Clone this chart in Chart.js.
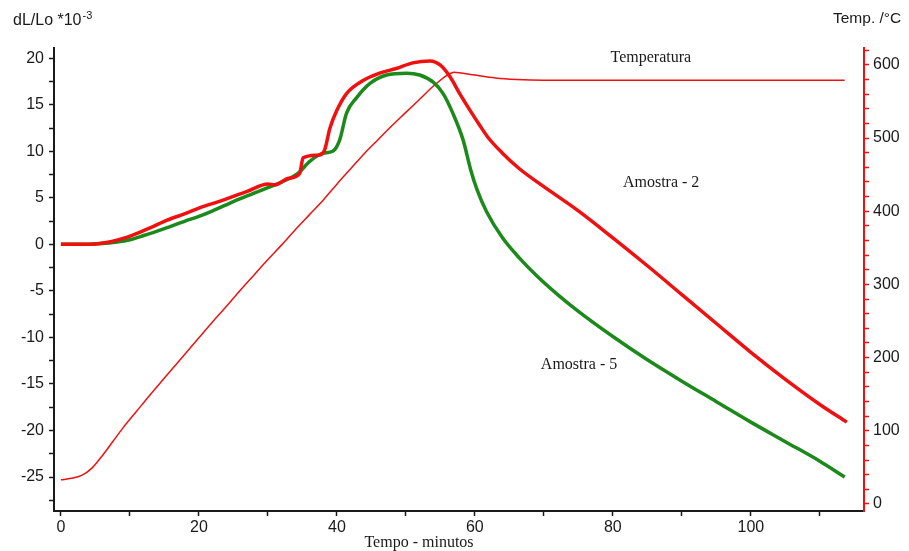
<!DOCTYPE html>
<html>
<head>
<meta charset="utf-8">
<script src="https://cdn.jsdelivr.net/npm/chart.js@4/dist/chart.umd.min.js"></script>
<style>
  html, body { margin: 0; padding: 0; background: #fff; }
  #wrap { width: 909px; height: 551px; }
</style>
</head>
<body>
<div id="wrap"><canvas id="chart" width="909" height="551"></canvas></div>
<script>
// values
const amostra2Time = [0, 3, 5, 7, 9, 10.4, 13, 15.4, 18, 20, 23.5, 27, 30, 31, 33, 34.6, 35.1, 37.5, 38.2, 39, 40, 41.4, 43.8, 46.2, 48.6, 51, 53.5, 55, 56.4, 57.8, 59.3, 60.7, 62, 64, 66.5, 70, 75, 80, 85, 90, 95, 100, 105, 110, 113.9];
const amostra2Val  = [0, 0, 0.05, 0.25, 0.65, 1.0, 1.8, 2.6, 3.3, 3.9, 4.75, 5.7, 6.5, 6.4, 7.1, 7.6, 9.3, 9.6, 10.1, 12.5, 14.4, 16.2, 17.6, 18.4, 18.9, 19.5, 19.7, 19.25, 18.0, 16.2, 14.4, 12.8, 11.4, 9.8, 8.1, 6.2, 3.6, 0.7, -2.3, -5.4, -8.5, -11.6, -14.5, -17.2, -19.1];

const amostra5Time = [0, 4, 7, 10, 12, 15, 18, 20, 22, 25, 28, 30, 32, 34.3, 36.2, 38, 39.4, 40.4, 41.4, 42.9, 44.8, 47.2, 50.1, 52, 54, 55.4, 56.8, 58.3, 59.4, 60.3, 61.7, 64, 66.5, 69, 72, 75, 80, 85, 90, 95, 100, 105, 110, 113.6];
const amostra5Val  = [0, 0.02, 0.15, 0.5, 0.95, 1.7, 2.5, 3.0, 3.6, 4.6, 5.5, 6.1, 6.7, 7.6, 9.0, 9.8, 10.0, 11.2, 14.1, 15.8, 17.3, 18.2, 18.4, 18.2, 17.4, 16.2, 14.1, 11.2, 8.0, 5.9, 3.5, 0.7, -1.5, -3.4, -5.4, -7.2, -9.9, -12.4, -14.7, -16.9, -19.1, -21.2, -23.3, -25.0];

const tempTime = [0, 1.5, 3, 4.5, 6, 7.5, 9, 11, 13, 15, 17, 20, 22, 24, 26, 28, 30, 32, 34, 36, 38, 40, 42, 44, 46, 48, 50, 52, 54, 56, 57, 58, 60, 63, 66, 70, 80, 90, 100, 113.6];
const tempVal  = [33, 35, 39, 49, 66, 85, 104, 127, 150, 172, 194, 227, 249, 270, 292, 313, 334, 354, 375, 395, 415, 437, 458, 479, 498, 517, 535, 553, 571, 586, 590, 589, 586, 582, 580, 579, 579, 579, 579, 579];

const xMajor = 20, yMajor = 5, tMajor = 100;

// text notes on the plot, in data units (minutes, dL/Lo)
const notes = [
  { text: "Temperatura", x: 85.5, y: 20 },
  { text: "Amostra - 2", x: 87, y: 6.57 },
  { text: "Amostra - 5", x: 75.1, y: -12.97 },
];

const pts = (xs, ys) => xs.map((x, i) => ({ x: x, y: ys[i] }));

const ink = "#1a1a1a";
const tickFont = { family: "'Liberation Sans', Arial, sans-serif", size: 16 };

const textPlugin = {
  id: "texts",
  afterDraw(chart) {
    const c = chart.ctx;
    const xs = chart.scales.x, ys = chart.scales.y;
    c.save();
    c.fillStyle = ink;
    c.textBaseline = "alphabetic";
    c.textAlign = "left";
    c.font = "16px 'Liberation Sans', Arial, sans-serif";
    c.fillText("dL/Lo *10", 13, 25);
    const w = c.measureText("dL/Lo *10").width;
    c.font = "11px 'Liberation Sans', Arial, sans-serif";
    c.fillText("-3", 13 + w + 1, 19);
    c.font = "15.5px 'Liberation Sans', Arial, sans-serif";
    c.fillText("Temp. /°C", 833, 23);

    c.font = "16px 'Liberation Serif', 'Times New Roman', serif";
    c.textAlign = "center";
    c.fillText("Tempo - minutos", 419, 547);
    c.textBaseline = "middle";
    notes.forEach(n => {
      c.fillText(n.text, xs.getPixelForValue(n.x), ys.getPixelForValue(n.y));
    });
    c.restore();
  }
};

new Chart(document.getElementById("chart"), {
  type: "line",
  data: {
    datasets: [
      {
        label: "Amostra - 2",
        data: pts(amostra2Time, amostra2Val),
        yAxisID: "y",
        borderColor: "#f01010",
        borderWidth: 3.5,
        pointRadius: 0,
        cubicInterpolationMode: "monotone",
      },
      {
        label: "Amostra - 5",
        data: pts(amostra5Time, amostra5Val),
        yAxisID: "y",
        borderColor: "#1b8a1b",
        borderWidth: 3.5,
        pointRadius: 0,
        cubicInterpolationMode: "monotone",
      },
      {
        label: "Temperatura",
        data: pts(tempTime, tempVal),
        yAxisID: "y2",
        borderColor: "#f01010",
        borderWidth: 1.5,
        pointRadius: 0,
        cubicInterpolationMode: "monotone",
      },
    ]
  },
  options: {
    responsive: false,
    animation: false,
    devicePixelRatio: 1,
    layout: { padding: { top: 48, left: 0, right: 0, bottom: 0 } },
    plugins: { legend: { display: false }, tooltip: { enabled: false } },
    scales: {
      x: {
        type: "linear",
        min: -1,
        max: 116.4,
        afterFit: s => { s.height = 40; },
        border: { display: true, color: ink, width: 2 },
        grid: { drawOnChartArea: false, drawTicks: true, tickLength: 5, color: ink, tickWidth: 1.5 },
        ticks: {
          stepSize: 10,
          includeBounds: false,
          autoSkip: false,
          maxRotation: 0,
          padding: 2,
          color: ink,
          font: tickFont,
          callback: v => (v % xMajor === 0 ? String(v) : ""),
        },
      },
      y: {
        type: "linear",
        position: "left",
        min: -28.65,
        max: 21.1,
        afterFit: s => { s.width = 54; },
        border: { display: true, color: ink, width: 2 },
        grid: { drawOnChartArea: false, drawTicks: true, tickLength: 5, color: ink, tickWidth: 1.5 },
        ticks: {
          stepSize: 2.5,
          includeBounds: false,
          autoSkip: false,
          padding: 5,
          color: ink,
          font: tickFont,
          callback: v => (v % yMajor === 0 ? String(v) : ""),
        },
      },
      y2: {
        type: "linear",
        position: "right",
        min: -9.6,
        max: 623,
        afterFit: s => { s.width = 45; },
        border: { display: true, color: "#f01010", width: 2 },
        grid: { drawOnChartArea: false, drawTicks: true, tickLength: 5, color: "#f01010", tickWidth: 1.5 },
        ticks: {
          stepSize: 20,
          includeBounds: false,
          autoSkip: false,
          padding: 4,
          color: ink,
          font: tickFont,
          callback: v => (v % tMajor === 0 ? String(v) : ""),
        },
      },
    }
  },
  plugins: [textPlugin]
});
</script>
</body>
</html>
